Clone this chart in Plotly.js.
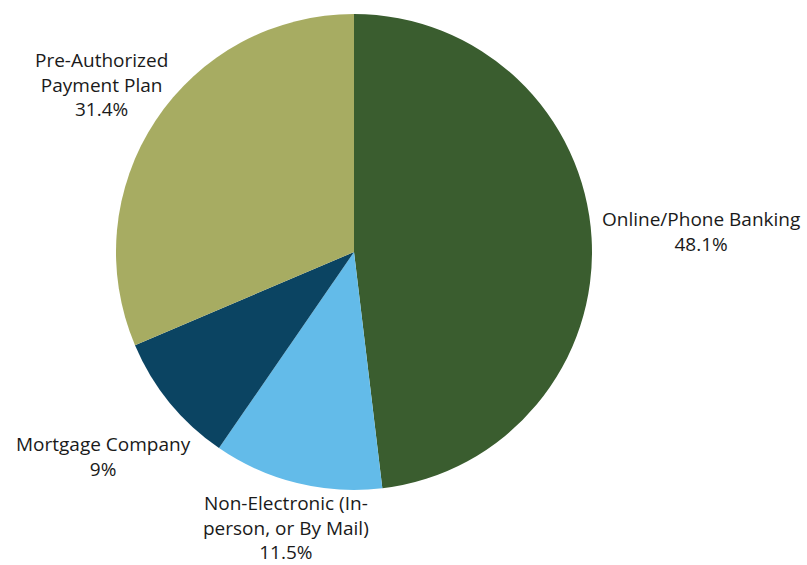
<!DOCTYPE html>
<html>
<head>
<meta charset="utf-8">
<script src="https://cdn.plot.ly/plotly-3.0.1.min.js"></script>
<style>html,body{margin:0;padding:0;background:#fff;}#chart{width:807px;height:565px;}</style>
</head>
<body>
<div id="chart"></div>
<script>
const categories = ["Online/Phone Banking", "Non-Electronic (In-<br>person, or By Mail)", "Mortgage Company", "Pre-Authorized<br>Payment Plan"];
const values = [48.1, 11.5, 9, 31.4];
const valueLabels = ["48.1%", "11.5%", "9%", "31.4%"];
const colors = ["#3a5d2f", "#63bbe9", "#0b4462", "#a7ac62"];

// layout settings (not data)
const W = 807, H = 565;
const domX = [116 / W, 592 / W];
const domY = [75 / H, 551 / H];
const labelDist = [1.462, 1.192, 1.361, 1.273]; // label centre distance as a multiple of the radius
const labelFont = {family: "'Open Sans', sans-serif", size: 19, color: "#1a1a1a"};

const trace = {
  type: "pie",
  labels: categories,
  values: values,
  textinfo: "none",
  sort: false,
  direction: "clockwise",
  rotation: 0,
  marker: {colors: colors, line: {color: "#ffffff", width: 0}},
  showlegend: false,
  hoverinfo: "none",
  domain: {x: domX, y: domY}
};

// label positions derived from the slice mid-angles
const cxPx = (domX[0] + domX[1]) / 2 * W;
const cyPx = H - (domY[0] + domY[1]) / 2 * H;
const rPx = Math.min((domX[1] - domX[0]) * W, (domY[1] - domY[0]) * H) / 2;
const total = values.reduce((a, b) => a + b, 0);
let cum = 0;
const annotations = values.map((v, i) => {
  const a = 2 * Math.PI * (cum + v / 2) / total;
  cum += v;
  const d = rPx * labelDist[i];
  const px = cxPx + Math.sin(a) * d;
  const py = cyPx - Math.cos(a) * d;
  return {
    xref: "paper", yref: "paper",
    x: px / W, y: 1 - py / H,
    xanchor: "center", yanchor: "middle",
    align: "center",
    showarrow: false,
    text: categories[i] + "<br>" + valueLabels[i],
    font: labelFont
  };
});

Plotly.newPlot("chart", [trace], {
  width: W, height: H,
  margin: {l: 0, r: 0, t: 0, b: 0},
  paper_bgcolor: "#ffffff",
  showlegend: false,
  annotations: annotations
}, {staticPlot: true});
</script>
</body>
</html>
